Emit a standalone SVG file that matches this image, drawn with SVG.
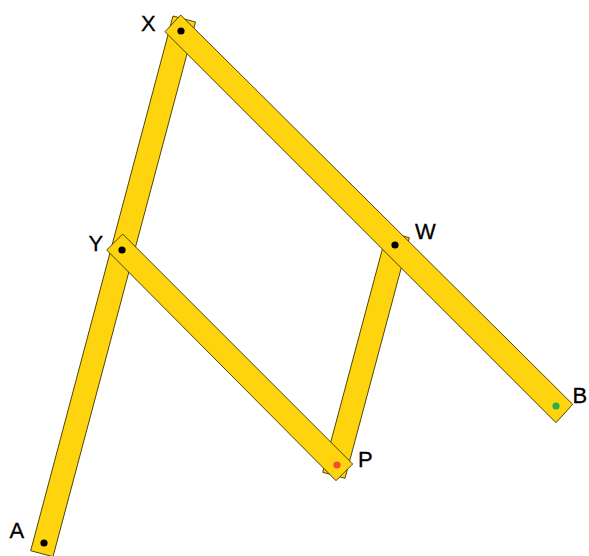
<svg xmlns="http://www.w3.org/2000/svg" width="589" height="556" viewBox="0 0 589 556">
<style>
.bar{fill:#fdd40d;stroke:#3d3300;stroke-width:0.9;stroke-linejoin:miter}
.pin{fill:#000}
text{font-family:"Liberation Sans",Arial,sans-serif;font-size:22px;fill:#000;stroke:#000;stroke-width:0.3}
</style>
<rect width="589" height="556" fill="#fff"/>
<g id="connectors">
<polygon id="bar-AX" class="bar" points="173,16 195.5,22 53,556.7 30.7,550.7"/>
<polygon id="bar-WP" class="bar" points="387,231.7 409.3,237.7 345,478.3 322.7,472.3"/>
<polygon id="bar-XB" class="bar" points="180.7,15 572.7,404.3 556,422.7 165,31.7"/>
<polygon id="bar-YP" class="bar" points="122.7,234 352.7,464 336,480.7 106.7,250"/>
</g>
<g id="node-X"><circle class="pin" cx="181" cy="31" r="3.6"/><text x="141" y="31">X</text></g>
<g id="node-Y"><circle class="pin" cx="122" cy="250" r="3.6"/><text x="88.5" y="251">Y</text></g>
<g id="node-W"><circle class="pin" cx="395" cy="245" r="3.6"/><text x="415" y="239">W</text></g>
<g id="node-P"><circle cx="337" cy="465" r="3.6" fill="#f04e30"/><text x="358" y="466.5">P</text></g>
<g id="node-B"><circle cx="556" cy="406" r="3.6" fill="#22b14c"/><text x="572.5" y="403">B</text></g>
<g id="node-A"><circle class="pin" cx="44" cy="543" r="3.6"/><text x="9.5" y="538">A</text></g>
</svg>
